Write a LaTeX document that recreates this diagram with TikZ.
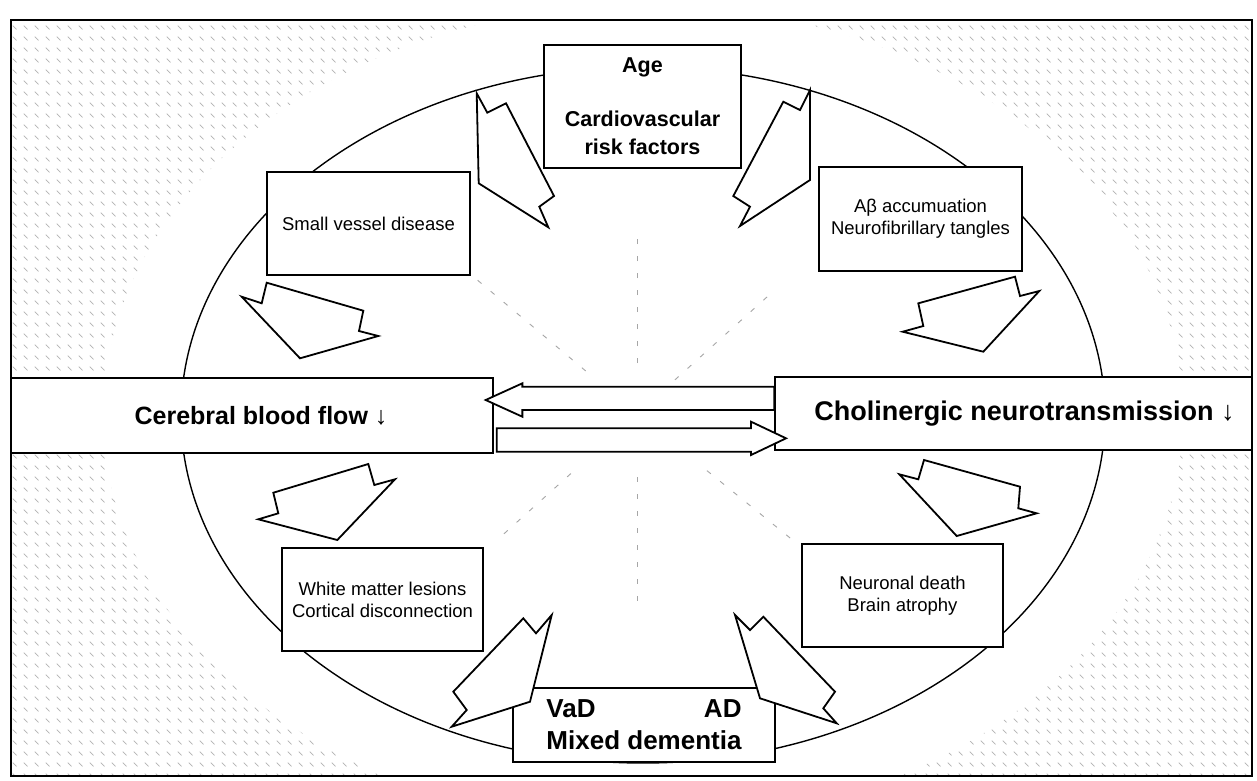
\documentclass[tikz,border=0pt]{standalone}
\usepackage{fontspec}
\setmainfont{Liberation Sans}
\usepackage{calc}
\usetikzlibrary{patterns,calc}

% light scanner hatch in the corners
\pgfdeclarepatternformonly{scan dashes}{\pgfpointorigin}{\pgfqpoint{11pt}{11pt}}{\pgfqpoint{11pt}{11pt}}{%
  \pgfsetlinewidth{0.8pt}%
  \pgfpathmoveto{\pgfqpoint{2pt}{8pt}}%
  \pgfpathlineto{\pgfqpoint{6pt}{4pt}}%
  \pgfusepath{stroke}}

\begin{document}
\begin{tikzpicture}[x=1pt,y=-1pt,line join=miter,
    note box/.style={draw,fill=white,line width=1.3pt,inner sep=0pt,align=center,
      minimum width=201pt,minimum height=103pt,font=\fontsize{18.5}{22}\selectfont},
    key box/.style={draw,fill=white,line width=1.3pt,inner sep=0pt,align=center},
    fat arrow/.style={draw,fill=white,line width=1.8pt},
    spoke/.style={draw=gray!70,line width=0.9pt,dash pattern=on 5pt off 12pt}]

    \useasboundingbox[fill=white] (0,0) rectangle (1257,780);

    % Background, frame and ellipse
    \begin{scope}
        \clip (11,20) rectangle (1252,776);
        \fill[pattern=scan dashes,pattern color=gray!60,even odd rule]
            (0,0) rectangle (1257,780) (643,415) ellipse [x radius=540,y radius=410];
    \end{scope}
    \draw[line width=2pt] (11,20) rectangle (1252,776);
    \draw[line width=1.4pt,fill=white] (643,415) ellipse [x radius=462,y radius=348];

    % Spokes
    \coordinate (hub) at (637,414);
    \foreach \ang/\ra/\rb in {270/51/184,220/67/210,318/51/183,138/89/190,39/90/204,90/63/193}
        \draw[spoke] ([shift={(\ang:\ra)}]hub) -- ([shift={(\ang:\rb)}]hub);

    % Boxes
    \node[key box,minimum width=197pt,minimum height=123pt,
        font=\bfseries\fontsize{21.5}{28}\selectfont] (risk) at (642.5,106.5)
        {Age\\[26pt]Cardiovascular\\risk factors};
    \node[note box,minimum width=203pt] (svd) at (368.5,223.5) {Small vessel disease};
    \node[note box,minimum width=203pt,minimum height=104pt] (abeta) at (920.5,219)
        {Aβ accumuation\\Neurofibrillary tangles};
    \node[key box,minimum width=482pt,minimum height=75pt,
        font=\bfseries\fontsize{25}{30}\selectfont] (cbf) at (252,415.5)
        {\hspace*{18pt}Cerebral blood flow ↓};
    \node[key box,minimum width=477pt,minimum height=73pt,
        font=\bfseries\fontsize{27}{32}\selectfont] (ach) at (1013.5,413.5)
        {\hspace*{22pt}Cholinergic neurotransmission ↓};
    \node[note box] (wml) at (382.5,599.5) {White matter lesions\\Cortical disconnection};
    \node[note box] (death) at (902.5,595.5) {Neuronal death\\Brain atrophy};
    \node[key box,minimum width=262pt,minimum height=74pt,
        font=\bfseries\fontsize{26}{32}\selectfont] (dem) at (644,725)
        {\makebox[\widthof{Mixed dementia}]{VaD\hfill AD}\\Mixed dementia};

    % Block arrows round the circle
    \draw[fat arrow] (476.7,93.3) -- (487.3,112.7) -- (506,103.3) -- (554,196)
        -- (539.3,206.7) -- (548.3,227.3) -- (478.7,183.3) -- cycle;
    \draw[fat arrow] (810,90) -- (800,110) -- (783.3,101.7) -- (733.3,196)
        -- (750,206.7) -- (740,226) -- (810,180) -- cycle;
    \draw[fat arrow] (918.3,303.3) -- (1015,276.7) -- (1020,296) -- (1039.3,291)
        -- (983.3,351.7) -- (902.7,331.7) -- (923.3,326) -- cycle;
    \draw[fat arrow] (266.7,282.7) -- (363.3,310.7) -- (359,331) -- (378.3,336)
        -- (300,358.3) -- (241.7,296.7) -- (261.7,303.3) -- cycle;
    \draw[fat arrow] (368.3,464) -- (374.3,485) -- (395,479.3) -- (337.3,540)
        -- (258.3,519.3) -- (278.3,513.3) -- (273.3,492.7) -- cycle;
    \draw[fat arrow] (924,460) -- (1020,486.7) -- (1018.3,508.3) -- (1036.7,513.3)
        -- (956.7,536) -- (899.3,474.3) -- (918.3,479.3) -- cycle;
    \draw[fat arrow] (523.3,618.3) -- (536,633.3) -- (551.7,615) -- (530,701.7)
        -- (451.7,726.7) -- (466.7,710) -- (453.3,691.7) -- cycle;
    \draw[fat arrow] (735,615) -- (750,630) -- (763.3,616.7) -- (835,691.7)
        -- (823.3,708.3) -- (836.7,723.3) -- (760,698.3) -- cycle;

    % Arrows between the two flows
    \draw[fat arrow] ($(ach.west)+(0,-26.8)$) -- ($(cbf.east)+(28.7,-28.8)$)
        -- ($(cbf.east)+(28.7,-32.2)$) -- ($(cbf.east)+(-8,-15.5)$)
        -- ($(cbf.east)+(28.7,1.2)$) -- ($(cbf.east)+(28.7,-5.5)$)
        -- ($(ach.west)+(0,-3.5)$) -- cycle;
    \draw[fat arrow] ($(cbf.east)+(3,12.8)$) -- ($(ach.west)+(-23.3,14.8)$)
        -- ($(ach.west)+(-23.3,8.2)$) -- ($(ach.west)+(11.7,24.8)$)
        -- ($(ach.west)+(-23.3,41.5)$) -- ($(ach.west)+(-23.3,38.2)$)
        -- ($(cbf.east)+(3,36.2)$) -- cycle;

\end{tikzpicture}
\end{document}
